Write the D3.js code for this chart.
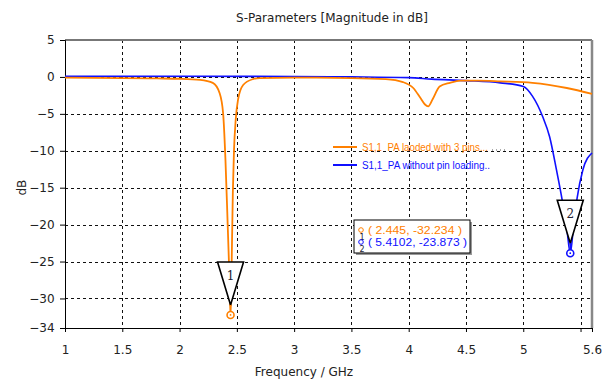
<!DOCTYPE html>
<html>
<head>
<meta charset="utf-8">
<script src="https://cdn.jsdelivr.net/npm/d3@7"></script>
<style>
body{margin:0;background:#fff;}
svg{font-family:"DejaVu Sans",Verdana,sans-serif;}
</style>
</head>
<body>
<div id="chart"></div>
<script>
// frequency (GHz) / magnitude (dB)
var loadedFreq = [1.0,1.5,1.8,2.0,2.18,2.29,2.35,2.38,2.40,2.42,2.435,2.445,2.455,2.465,2.475,2.49,2.51,2.555,2.64,2.7,3.0,3.5,3.8,3.95,4.04,4.10,4.14,4.17,4.21,4.27,4.36,4.45,4.6,4.8,5.08,5.38,5.6];
var loadedDb   = [-0.1,-0.15,-0.2,-0.25,-0.4,-0.8,-2.2,-4.9,-11,-20,-27,-32.234,-25,-15.7,-10,-5.8,-3.1,-1.1,-0.3,-0.15,-0.1,-0.15,-0.3,-0.7,-1.5,-2.8,-3.7,-4.0,-3.0,-1.3,-0.8,-0.5,-0.5,-0.6,-0.8,-1.5,-2.3];
var plainFreq  = [1.0,2.0,3.0,3.5,4.0,4.2,4.5,4.8,5.0,5.08,5.17,5.23,5.29,5.34,5.38,5.4102,5.44,5.47,5.52,5.6];
var plainDb    = [0.1,0.1,0.05,0.0,-0.1,-0.3,-0.5,-0.8,-1.3,-2.6,-5.4,-8.1,-12.6,-16.7,-20.5,-23.873,-20,-16.4,-12.6,-10.3];
var seriesNames = ["S1,1\u00a0\u00a0PA laoded with 3 pins...","S1,1_PA without pin loading.."];
var markerFreq = [2.445,5.4102];
var markerDb   = [-32.234,-23.873];
var markerText = ["( 2.445, -32.234 )","( 5.4102, -23.873 )"];
var xTicks = [1,1.5,2,2.5,3,3.5,4,4.5,5,5.5,5.6];
var xLabels = [1,1.5,2,2.5,3,3.5,4,4.5,5,5.6];
var yTicks = [5,0,-5,-10,-15,-20,-25,-30,-34];
var colors = ["#ff8000","#1010ff"];

var W = 610, H = 380, mL = 65, mR = 18, mT = 40, mB = 52;
var svg = d3.select("#chart").append("svg").attr("width",W).attr("height",H);

var x = d3.scaleLinear().domain([1,5.6]).range([mL,W-mR]);
var y = d3.scaleLinear().domain([-34,5]).range([H-mB,mT]);

// title
svg.append("text").attr("x",332).attr("y",22).attr("text-anchor","middle")
	.style("font-size","12px").attr("fill","#222").text("S-Parameters [Magnitude in dB]");

// grid
var grid = svg.append("g").attr("stroke","#111").attr("stroke-dasharray","3,3").attr("stroke-width",1);
xTicks.filter(function(t){return t>1 && t<5.6}).forEach(function(t){
	grid.append("line").attr("x1",Math.round(x(t))+0.5).attr("x2",Math.round(x(t))+0.5)
		.attr("y1",y(5)).attr("y2",y(-34));
});
[0,-5,-10,-15,-20,-25,-30].forEach(function(t){
	grid.append("line").attr("y1",Math.round(y(t))+0.5).attr("y2",Math.round(y(t))+0.5)
		.attr("x1",x(1)).attr("x2",x(5.6));
});

// frame
svg.append("line").attr("x1",x(1)).attr("x2",x(5.6)).attr("y1",y(5)).attr("y2",y(5))
	.attr("stroke","#777").attr("stroke-width",2);
svg.append("line").attr("x1",x(5.6)).attr("x2",x(5.6)).attr("y1",y(5)).attr("y2",y(-34))
	.attr("stroke","#888").attr("stroke-width",2.5);

// axes
var xAxis = d3.axisBottom(x).tickValues(xTicks).tickSize(4)
	.tickFormat(function(d){return xLabels.indexOf(d)>=0 ? d : "";});
var gx = svg.append("g").attr("transform","translate(0,"+(H-mB)+")").call(xAxis);
var yAxis = d3.axisLeft(y).tickValues(yTicks).tickSize(5);
var gy = svg.append("g").attr("transform","translate("+mL+",0)").call(yAxis);
[gx,gy].forEach(function(g){
	g.select(".domain").attr("stroke","#000");
	g.selectAll(".tick line").attr("stroke","#000");
	g.selectAll("text").style("font-size","12px").attr("fill","#222").style("font-family","DejaVu Sans");
});
gx.selectAll("text").attr("dy","1.6em");
gy.selectAll("text").attr("dx","-0.2em");

svg.append("text").attr("x",304).attr("y",376).attr("text-anchor","middle")
	.style("font-size","12px").attr("fill","#222").text("Frequency / GHz");
svg.append("text").attr("transform","translate(26,"+y(-15)+") rotate(-90)")
	.attr("text-anchor","middle").style("font-size","12px").attr("fill","#222").text("dB");

// curves
var line = d3.line().x(function(d){return x(d[0]);}).y(function(d){return y(d[1]);}).curve(d3.curveMonotoneX);
var series = [d3.zip(loadedFreq,loadedDb), d3.zip(plainFreq,plainDb)];
svg.append("path").datum(series[1]).attr("d",line).attr("fill","none")
	.attr("stroke",colors[1]).attr("stroke-width",1.6);
svg.append("path").datum(series[0]).attr("d",line).attr("fill","none")
	.attr("stroke",colors[0]).attr("stroke-width",1.8);

// legend
var leg = svg.append("g");
seriesNames.forEach(function(n,i){
	var ly = 147 + i*18;
	leg.append("line").attr("x1",333).attr("x2",357).attr("y1",ly).attr("y2",ly)
		.attr("stroke",colors[i]).attr("stroke-width",2);
	leg.append("text").attr("x",362).attr("y",ly+3.5).attr("fill",colors[i])
		.style("font-size","10px").style("font-family","Liberation Sans Narrow, Liberation Sans")
		.attr("textLength",i==0 ? 126 : 128).attr("lengthAdjust","spacingAndGlyphs")
		.text(n);
});
leg.append("line").attr("x1",492).attr("x2",508).attr("y1",150).attr("y2",150)
	.attr("stroke","#555").attr("stroke-dasharray","1,3");

// markers
markerFreq.forEach(function(f,i){
	var cx = x(f), cy = y(markerDb[i]);
	svg.append("path")
		.attr("d","M"+(cx-13)+","+(cy-53)+"L"+(cx+13)+","+(cy-53)+"L"+cx+","+(cy-10)+"Z")
		.attr("fill","#fff").attr("stroke","#000").attr("stroke-width",1.6);
	svg.append("text").attr("x",cx).attr("y",cy-35).attr("text-anchor","middle")
		.style("font-size","12px").style("font-family","DejaVu Serif").attr("fill","#223").text(i+1);
	svg.append("line").attr("x1",cx).attr("x2",cx).attr("y1",cy-10).attr("y2",cy-4)
		.attr("stroke",colors[i]).attr("stroke-width",1.5);
	svg.append("circle").attr("cx",cx).attr("cy",cy).attr("r",3.5)
		.attr("fill","#fff").attr("stroke",colors[i]).attr("stroke-width",1.6);
	svg.append("circle").attr("cx",cx).attr("cy",cy).attr("r",0.9).attr("fill",colors[i]);
});

// marker readout box
var box = svg.append("g");
box.append("rect").attr("x",356).attr("y",222).attr("width",116).attr("height",33).attr("fill","#999");
box.append("rect").attr("x",354).attr("y",220).attr("width",116).attr("height",33)
	.attr("fill","#fff").attr("stroke","#000").attr("stroke-width",1);
markerText.forEach(function(t,i){
	var ry = 234 + i*12;
	box.append("circle").attr("cx",361).attr("cy",ry-4).attr("r",2.3)
		.attr("fill","none").attr("stroke",colors[i]).attr("stroke-width",1);
	box.append("text").attr("x",362).attr("y",ry+6).attr("text-anchor","middle")
		.style("font-size","8px").attr("fill","#223").text(i+1);
	box.append("text").attr("x",368).attr("y",ry).style("font-size","10.5px")
		.style("font-family","Liberation Sans Narrow, Liberation Sans")
		.attr("textLength",i==0 ? 94 : 99).attr("lengthAdjust","spacingAndGlyphs")
		.attr("fill",colors[i]).text(t);
});
</script>
</body>
</html>
